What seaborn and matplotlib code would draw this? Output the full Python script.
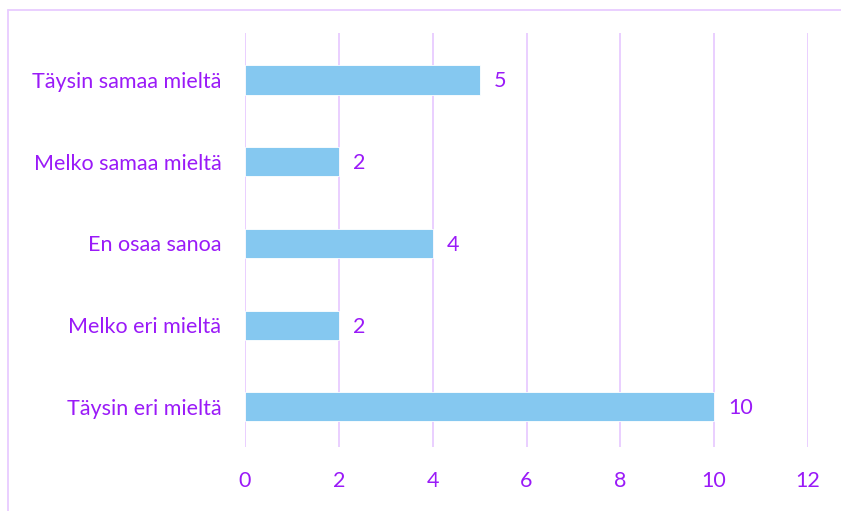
import matplotlib
matplotlib.use("Agg")
import matplotlib.pyplot as plt
import seaborn as sns
import pandas as pd
from matplotlib.lines import Line2D

categories = ["Täysin samaa mieltä", "Melko samaa mieltä", "En osaa sanoa", "Melko eri mieltä", "Täysin eri mieltä"]
values = [5, 2, 4, 2, 10]
xticks = [0, 2, 4, 6, 8, 10, 12]

purple = "#9A1AF8"
grid_c = "#E8CCFF"
bar_c = "#85C8F0"

sns.set_theme(style="white")
plt.rcParams['font.family'] = ['Lato', 'DejaVu Sans']

W, H = 841, 511
fig = plt.figure(figsize=(W / 100, H / 100), dpi=100)
ax = fig.add_axes([245 / W, 1 - 447 / H, (808 - 245) / W, (447 - 33) / H])

df = pd.DataFrame({"cat": categories, "val": values})
sns.barplot(data=df, x="val", y="cat", orient="h", color=bar_c, width=0.355,
            saturation=1, ax=ax, zorder=3, edgecolor="white", linewidth=0.6)

ax.set_xlim(0, 12)
ax.set_ylim(4.49, -0.575)
ax.set_xticks(xticks)
ax.xaxis.grid(True, color=grid_c, linewidth=1.3, zorder=0)
ax.yaxis.grid(False)
for s in ax.spines.values():
    s.set_visible(False)
ax.set_xlabel("")
ax.set_ylabel("")
fs = 15.5
ax.tick_params(axis="both", length=0, labelcolor=purple, labelsize=fs)
ax.tick_params(axis="y", pad=17)
ax.tick_params(axis="x", pad=17)

for i, v in enumerate(values):
    ax.annotate(str(v), xy=(v, i), xytext=(10, -1), textcoords="offset points",
                ha="left", va="center", color=purple, fontsize=fs)

# outer chart border (top and left)
fig.add_artist(Line2D([8 / W, 1], [1 - 10 / H, 1 - 10 / H], color=grid_c, linewidth=1.3))
fig.add_artist(Line2D([8 / W, 8 / W], [0, 1 - 10 / H], color=grid_c, linewidth=1.3))

fig.savefig("out.png", dpi=100, facecolor="white")
